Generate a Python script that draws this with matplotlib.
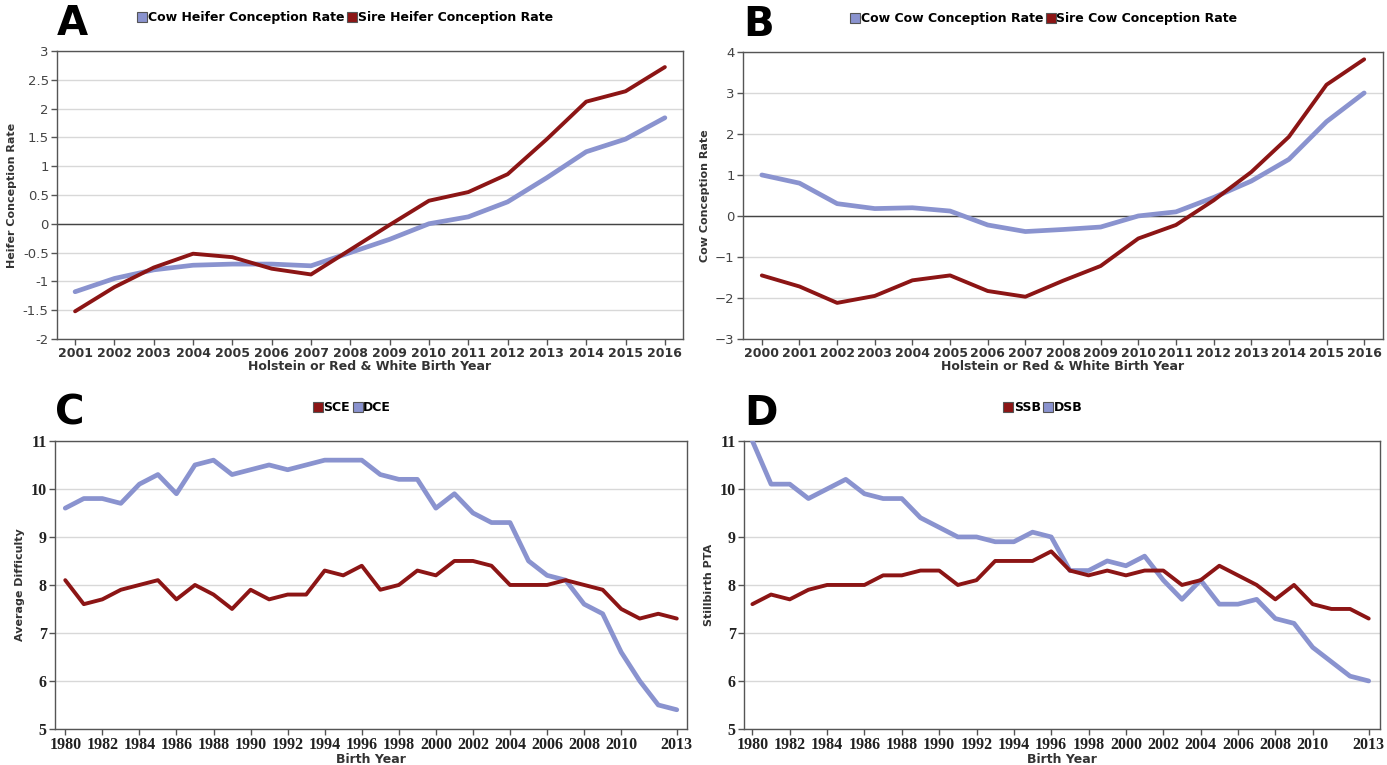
import matplotlib
matplotlib.use("Agg")
import matplotlib.pyplot as plt
from matplotlib.lines import Line2D

BLUE = "#8a93cf"
RED = "#8c1515"

# panel A - heifer conception rate
years_a = list(range(2001, 2017))
cow_heifer = [-1.18, -0.95, -0.80, -0.72, -0.70, -0.70, -0.73, -0.50, -0.27, 0.00,
              0.12, 0.38, 0.80, 1.25, 1.47, 1.84]
sire_heifer = [-1.52, -1.10, -0.76, -0.52, -0.58, -0.78, -0.88, -0.45, -0.02, 0.40,
               0.55, 0.86, 1.47, 2.12, 2.30, 2.72]

# panel B - cow conception rate
years_b = list(range(2000, 2017))
cow_cow = [1.00, 0.80, 0.30, 0.18, 0.20, 0.12, -0.22, -0.38, -0.33, -0.27, 0.00,
           0.10, 0.45, 0.85, 1.38, 2.30, 3.00]
sire_cow = [-1.45, -1.72, -2.12, -1.95, -1.57, -1.45, -1.83, -1.97, -1.58, -1.22,
            -0.55, -0.22, 0.38, 1.07, 1.93, 3.20, 3.82]

# panel C - calving ease
years_cd = list(range(1980, 2014))
sce = [8.1, 7.6, 7.7, 7.9, 8.0, 8.1, 7.7, 8.0, 7.8, 7.5, 7.9, 7.7, 7.8, 7.8, 8.3, 8.2,
       8.4, 7.9, 8.0, 8.3, 8.2, 8.5, 8.5, 8.4, 8.0, 8.0, 8.0, 8.1, 8.0, 7.9, 7.5, 7.3,
       7.4, 7.3]
dce = [9.6, 9.8, 9.8, 9.7, 10.1, 10.3, 9.9, 10.5, 10.6, 10.3, 10.4, 10.5, 10.4, 10.5,
       10.6, 10.6, 10.6, 10.3, 10.2, 10.2, 9.6, 9.9, 9.5, 9.3, 9.3, 8.5, 8.2, 8.1, 7.6,
       7.4, 6.6, 6.0, 5.5, 5.4]

# panel D - stillbirth
ssb = [7.6, 7.8, 7.7, 7.9, 8.0, 8.0, 8.0, 8.2, 8.2, 8.3, 8.3, 8.0, 8.1, 8.5, 8.5, 8.5,
       8.7, 8.3, 8.2, 8.3, 8.2, 8.3, 8.3, 8.0, 8.1, 8.4, 8.2, 8.0, 7.7, 8.0, 7.6, 7.5,
       7.5, 7.3]
dsb = [11.0, 10.1, 10.1, 9.8, 10.0, 10.2, 9.9, 9.8, 9.8, 9.4, 9.2, 9.0, 9.0, 8.9, 8.9,
       9.1, 9.0, 8.3, 8.3, 8.5, 8.4, 8.6, 8.1, 7.7, 8.1, 7.6, 7.6, 7.7, 7.3, 7.2, 6.7,
       6.4, 6.1, 6.0]

ticks_cd = list(range(1980, 2011, 2)) + [2013]

fig = plt.figure(figsize=(13.87, 7.65), dpi=100)

ax_a = fig.add_axes([0.0411, 0.5569, 0.4513, 0.3765])
ax_b = fig.add_axes([0.5357, 0.5569, 0.4614, 0.3752])
ax_c = fig.add_axes([0.0397, 0.0471, 0.4556, 0.3765])
ax_d = fig.add_axes([0.5364, 0.0471, 0.4585, 0.3765])


def style(ax, ylabel, xlabel, serif):
    ax.grid(axis="y", color="#d8d8d8", lw=1.0)
    ax.set_axisbelow(True)
    for s in ax.spines.values():
        s.set_color("#555555")
        s.set_linewidth(1.0)
    ax.tick_params(axis="both", colors="#555555", length=4, width=1, pad=2)
    if serif:
        for lab in ax.get_xticklabels() + ax.get_yticklabels():
            lab.set_family(["Liberation Serif", "DejaVu Serif"])
            lab.set_fontsize(11.5)
            lab.set_fontweight("bold")
            lab.set_color("#222222")
    else:
        for lab in ax.get_xticklabels():
            lab.set_fontsize(9)
            lab.set_fontweight("bold")
            lab.set_color("#333333")
        for lab in ax.get_yticklabels():
            lab.set_fontsize(9.5)
            lab.set_color("#444444")
    ax.set_ylabel(ylabel, fontsize=8, fontweight="bold", color="#333333", labelpad=4)
    ax.set_xlabel(xlabel, fontsize=9, fontweight="bold", color="#333333", labelpad=0)


def legend(ax, items, xc):
    handles = [Line2D([], [], marker="s", ls="none", markersize=7.5,
                      markerfacecolor=c, markeredgecolor="#555555", markeredgewidth=0.8)
               for c, _ in items]
    ax.legend(handles, [t for _, t in items], loc="center", bbox_to_anchor=(xc, 1.115),
              ncol=len(items), frameon=False, handletextpad=0.05, columnspacing=0.2,
              handlelength=0.8,
              prop={"family": "DejaVu Sans", "weight": "bold", "size": 9})


def letter(ax, txt):
    ax.text(0.0, 1.095, txt, transform=ax.transAxes, fontsize=29, fontweight="bold",
            va="center", ha="left")


# A
ax_a.plot(years_a, cow_heifer, color=BLUE, lw=3.4, solid_capstyle="round", zorder=3)
ax_a.plot(years_a, sire_heifer, color=RED, lw=2.8, solid_capstyle="round", zorder=4)
ax_a.axhline(0, color="#444444", lw=1.0, zorder=2)
ax_a.set_xlim(2000.54, 2016.46)
ax_a.set_ylim(-2, 3)
ax_a.set_xticks(years_a)
ax_a.set_yticks([-2, -1.5, -1, -0.5, 0, 0.5, 1, 1.5, 2, 2.5, 3])
ax_a.set_yticklabels(["-2", "-1.5", "-1", "-0.5", "0", "0.5", "1", "1.5", "2", "2.5", "3"])
style(ax_a, "Heifer Conception Rate", "Holstein or Red & White Birth Year", False)
legend(ax_a, [(BLUE, "Cow Heifer Conception Rate"), (RED, "Sire Heifer Conception Rate")], 0.46)
letter(ax_a, "A")

# B
ax_b.plot(years_b, cow_cow, color=BLUE, lw=3.4, solid_capstyle="round", zorder=3)
ax_b.plot(years_b, sire_cow, color=RED, lw=2.8, solid_capstyle="round", zorder=4)
ax_b.axhline(0, color="#444444", lw=1.0, zorder=2)
ax_b.set_xlim(1999.5, 2016.5)
ax_b.set_ylim(-3, 4)
ax_b.set_xticks(years_b)
ax_b.set_yticks(range(-3, 5))
style(ax_b, "Cow Conception Rate", "Holstein or Red & White Birth Year", False)
legend(ax_b, [(BLUE, "Cow Cow Conception Rate"), (RED, "Sire Cow Conception Rate")], 0.47)
letter(ax_b, "B")

# C
ax_c.plot(years_cd, dce, color=BLUE, lw=3.4, solid_capstyle="round", zorder=3)
ax_c.plot(years_cd, sce, color=RED, lw=2.8, solid_capstyle="round", zorder=4)
ax_c.set_xlim(1979.45, 2013.55)
ax_c.set_ylim(5, 11)
ax_c.set_xticks(ticks_cd)
ax_c.set_yticks(range(5, 12))
style(ax_c, "Average Difficulty", "Birth Year", True)
legend(ax_c, [(RED, "SCE"), (BLUE, "DCE")], 0.47)
letter(ax_c, "C")

# D
ax_d.plot(years_cd, dsb, color=BLUE, lw=3.4, solid_capstyle="round", zorder=3)
ax_d.plot(years_cd, ssb, color=RED, lw=2.8, solid_capstyle="round", zorder=4)
ax_d.set_xlim(1979.55, 2013.6)
ax_d.set_ylim(5, 11)
ax_d.set_xticks(ticks_cd)
ax_d.set_yticks(range(5, 12))
style(ax_d, "Stillbirth PTA", "Birth Year", True)
legend(ax_d, [(RED, "SSB"), (BLUE, "DSB")], 0.47)
letter(ax_d, "D")

fig.savefig("out.png", dpi=100)
